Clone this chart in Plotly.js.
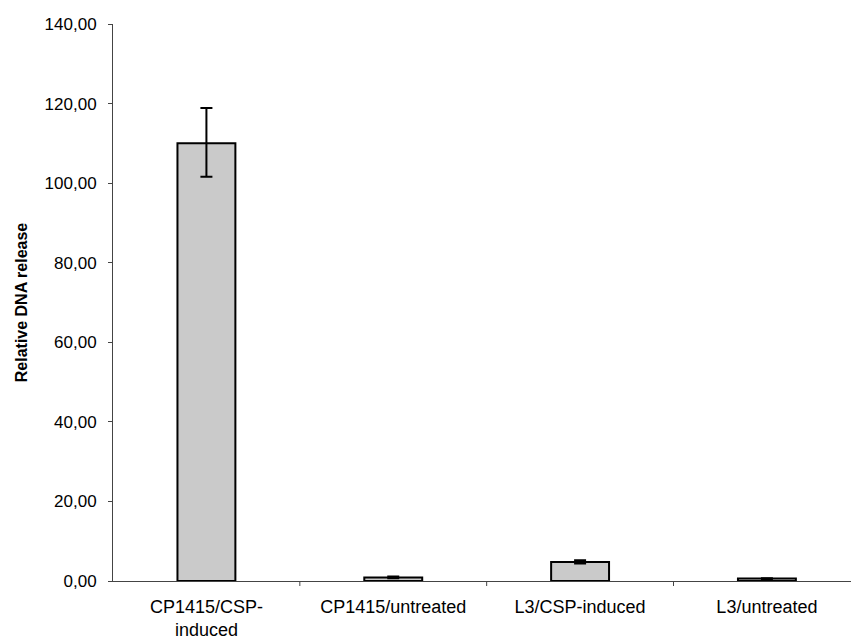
<!DOCTYPE html>
<html><head><meta charset="utf-8">
<script src="https://cdn.plot.ly/plotly-3.0.1.min.js"></script>
<style>html,body{margin:0;padding:0;background:#fff;}#chart{width:854px;height:640px;}</style>
</head><body><div id="chart"></div>
<script>
var categories = ["CP1415/CSP-<br>induced", "CP1415/untreated", "L3/CSP-induced", "L3/untreated"];
var values = [110.0, 0.9, 4.8, 0.6];
var errPlus = [8.9, 0.2, 0.4, 0.1];
var errMinus = [8.4, 0.2, 0.4, 0.1];
var yTicks = [0, 20, 40, 60, 80, 100, 120, 140];

var trace = {
  type: "bar",
  x: [0, 1, 2, 3],
  y: values,
  marker: {color: "#cacaca", line: {color: "#000", width: 2}},
  error_y: {type: "data", symmetric: false, array: errPlus, arrayminus: errMinus,
            color: "#000", thickness: 2, width: 6},
  width: 0.31
};
var layout = {
  width: 854, height: 640,
  margin: {l: 113, r: 3, t: 24, b: 59},
  paper_bgcolor: "#fff", plot_bgcolor: "#fff",
  showlegend: false,
  font: {family: "Liberation Sans, Arial, sans-serif", color: "#000", size: 17},
  xaxis: {
    range: [-0.5, 3.45], tickvals: [0, 1, 2, 3], ticktext: categories,
    showline: true, linecolor: "#444", linewidth: 1,
    ticks: "", showgrid: false, zeroline: false,
    tickfont: {size: 18}, ticklabelstandoff: 9
  },
  yaxis: {
    range: [0, 140], tickvals: yTicks, tickformat: ".2f",
    showline: true, linecolor: "#444", linewidth: 1,
    ticks: "outside", ticklen: 4, tickcolor: "#444",
    showgrid: false, zeroline: false,
    tickfont: {size: 17}, ticklabelstandoff: 8,
    title: {text: "<b>Relative DNA release</b>", font: {size: 16}, standoff: 12}
  },
  separators: ",."
};
var shapes = [];
[0.5, 1.5, 2.5].forEach(function(b){
  shapes.push({type: "line", xref: "x", yref: "paper", x0: b, x1: b, y0: 0, y1: -0.009, line: {color: "#444", width: 1}});
});
layout.shapes = shapes;
Plotly.newPlot("chart", [trace], layout, {displayModeBar: false, staticPlot: true});
</script></body></html>
